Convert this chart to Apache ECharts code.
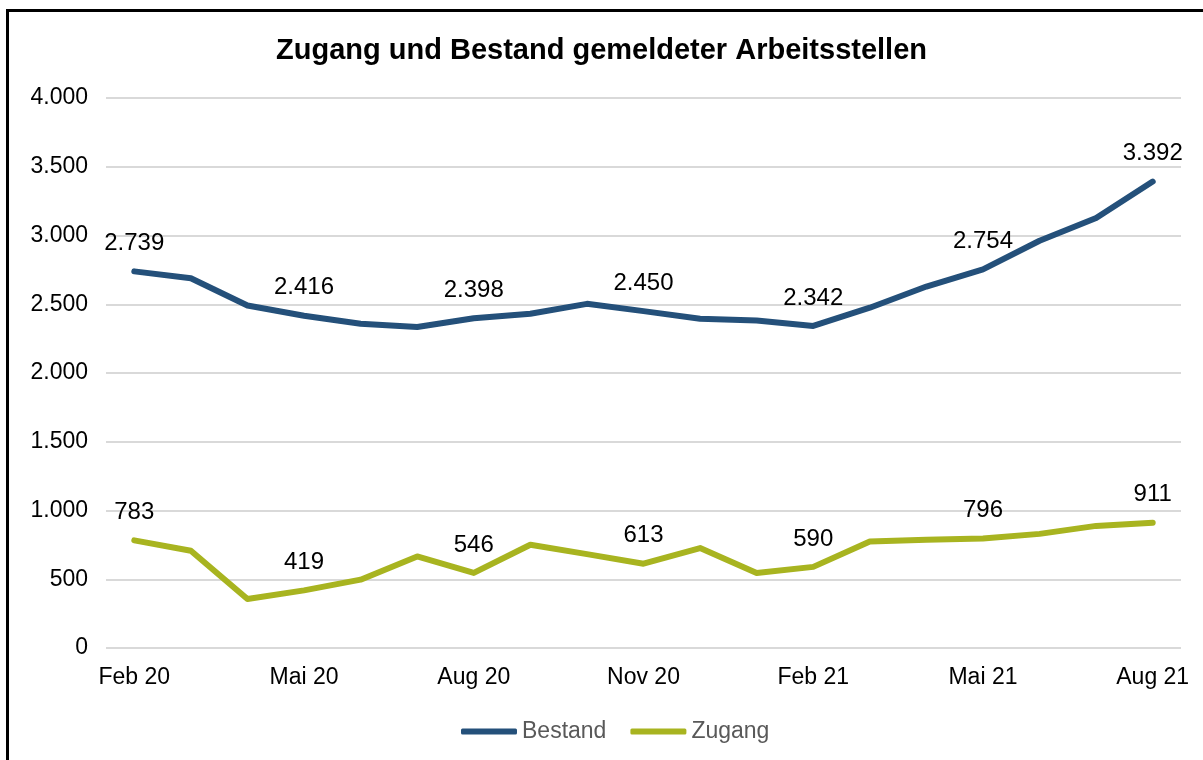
<!DOCTYPE html>
<html>
<head>
<meta charset="utf-8">
<script src="https://cdn.jsdelivr.net/npm/echarts@6/dist/echarts.min.js"></script>
<style>
  html, body { margin: 0; padding: 0; background: #fff; overflow: hidden; }
  #main { position: absolute; left: 0; top: 0; width: 1203px; height: 760px; }
  /* Rahmen um das Diagramm, rechts und unten abgeschnitten */
  #frame { position: absolute; left: 6px; top: 9px; width: 1300px; height: 900px;
           border: 3px solid #000; pointer-events: none; }
</style>
</head>
<body>
<div id="main"></div>
<div id="frame"></div>
<script>
// Monate Feb 20 - Aug 21
var months = ['Feb 20', 'Mär 20', 'Apr 20', 'Mai 20', 'Jun 20', 'Jul 20', 'Aug 20',
              'Sep 20', 'Okt 20', 'Nov 20', 'Dez 20', 'Jan 21', 'Feb 21', 'Mär 21',
              'Apr 21', 'Mai 21', 'Jun 21', 'Jul 21', 'Aug 21']
// Bestand gemeldeter Arbeitsstellen
var bestand = [2739, 2689, 2491, 2416, 2358, 2334, 2398, 2431, 2503, 2450,
               2394, 2382, 2342, 2475, 2629, 2754, 2962, 3127, 3392]
// Zugang gemeldeter Arbeitsstellen
var zugang = [783, 707, 357, 419, 497, 666, 546, 751, 683, 613,
              727, 545, 590, 775, 787, 796, 830, 888, 911]

var fontName = 'Liberation Sans, Arial, sans-serif'

// Tausenderpunkt wie im Original
function deNum(v) {
    return String(v).replace(/\B(?=(\d{3})+(?!\d))/g, '.')
}

// nur jeden dritten Monat beschriften
function everyThird(params) {
    return params.dataIndex % 3 === 0 ? deNum(params.value) : ''
}

var myChart = echarts.init(document.getElementById('main'))

var option = {
    animation: false,
    title: {
        text: 'Zugang und Bestand gemeldeter Arbeitsstellen',
        left: 'center',
        top: 31,
        textStyle: { fontFamily: fontName, fontSize: 29, fontWeight: 'bold', color: '#000' }
    },
    legend: {
        left: 456,
        top: 715,
        itemWidth: 56,
        itemHeight: 6,
        itemGap: 24,
        icon: 'roundRect',
        textStyle: { fontFamily: fontName, fontSize: 23, color: '#595959' },
        data: ['Bestand', 'Zugang']
    },
    grid: { left: 106, right: 22, top: 98, bottom: 112 },
    xAxis: {
        type: 'category',
        data: months,
        boundaryGap: true,
        axisLine: { show: false },
        axisTick: { show: false },
        axisLabel: {
            interval: 2,
            margin: 18,
            fontFamily: fontName,
            fontSize: 23,
            color: '#000'
        }
    },
    yAxis: {
        type: 'value',
        min: 0,
        max: 4000,
        interval: 500,
        axisLine: { show: false },
        axisTick: { show: false },
        splitLine: { lineStyle: { color: '#d9d9d9', width: 2 } },
        axisLabel: {
            margin: 18,
            fontFamily: fontName,
            fontSize: 23,
            color: '#000',
            formatter: deNum
        }
    },
    series: [
        {
            name: 'Bestand',
            type: 'line',
            data: bestand,
            symbol: 'circle',
            symbolSize: 0,
            showSymbol: true,
            color: '#24507a',
            lineStyle: { width: 6, color: '#24507a', cap: 'round', join: 'round' },
            label: {
                show: true,
                position: 'top',
                distance: 16,
                fontFamily: fontName,
                fontSize: 24,
                color: '#000',
                formatter: everyThird
            }
        },
        {
            name: 'Zugang',
            type: 'line',
            data: zugang,
            symbol: 'circle',
            symbolSize: 0,
            showSymbol: true,
            color: '#a8b420',
            lineStyle: { width: 6, color: '#a8b420', cap: 'round', join: 'round' },
            label: {
                show: true,
                position: 'top',
                distance: 16,
                fontFamily: fontName,
                fontSize: 24,
                color: '#000',
                formatter: everyThird
            }
        }
    ]
}

myChart.setOption(option)
</script>
</body>
</html>
